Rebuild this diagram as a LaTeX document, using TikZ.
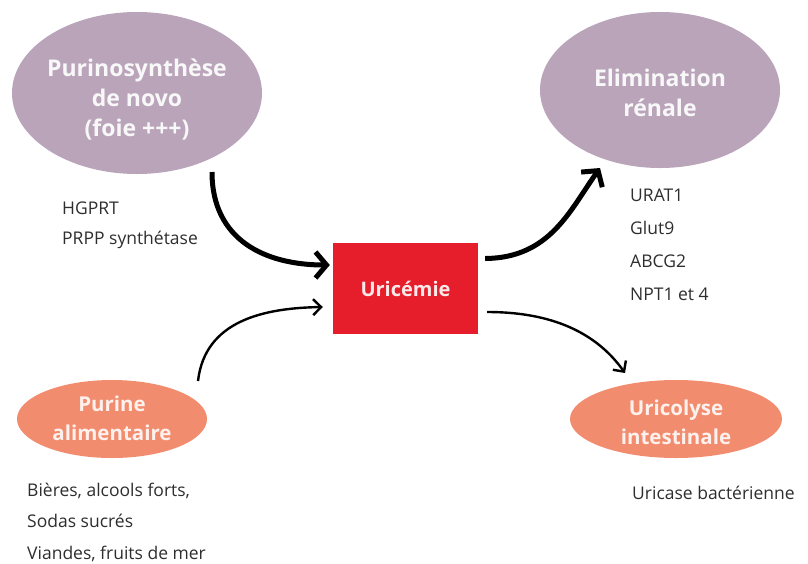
\documentclass[tikz,border=0pt]{standalone}
\usepackage{fontspec}
\setmainfont{Open Sans}
\usetikzlibrary{shapes.geometric,arrows.meta}
\definecolor{mauve}{HTML}{B9A4BA}
\definecolor{salmon}{HTML}{F28C6E}
\definecolor{uricred}{HTML}{E61E2B}
\definecolor{labelgray}{HTML}{2E2E2E}
\tikzset{
  mauveell/.style={ellipse, fill=mauve, draw=none, inner sep=0pt},
  salmonell/.style={ellipse, fill=salmon, draw=none, inner sep=0pt},
  mauvetxt/.style={align=center, inner sep=0pt, text=white!92!mauve,
    font=\fontsize{23}{30}\selectfont\bfseries},
  salmontxt/.style={align=center, inner sep=0pt, text=white!88!salmon,
    font=\fontsize{20.5}{29}\selectfont\bfseries},
  lbl/.style={anchor=west, inner sep=0pt, text=labelgray, align=left},
  thickarrow/.style={line width=5pt, -{Straight Barb[length=11pt,width=26pt,line width=5pt]}},
  thinarrow/.style={line width=2.4pt, -{Straight Barb[length=8pt,width=16pt,line width=2.4pt]}}
}
\begin{document}
\begin{tikzpicture}[x=1pt,y=-1pt]
\useasboundingbox (0,0) rectangle (808,563);
\node[mauveell, minimum width=250pt, minimum height=162pt] (pur) at (137,93) {};
\node[mauvetxt] (purtxt) at (137,100) {Purinosynthèse\\de novo\\(foie +++)};
\node[mauveell, minimum width=240pt, minimum height=156pt] (elim) at (660,90) {};
\node[mauvetxt] (elimtxt) at (660,93) {Elimination\\rénale};
\node[salmonell, minimum width=190pt, minimum height=78pt] (alim) at (112,419) {};
\node[salmontxt] (alimtxt) at (112,418) {Purine\\alimentaire};
\node[salmonell, minimum width=212pt, minimum height=78pt] (colyse) at (676,419) {};
\node[salmontxt] (colysetxt) at (676,422) {Uricolyse\\intestinale};
\node[fill=uricred, minimum width=145pt, minimum height=91pt, inner sep=0pt,
  text=white!90!uricred, font=\fontsize{20}{24}\selectfont\bfseries] (uric) at (405.5,288.5) {Uricémie};

\node[lbl, font=\fontsize{17.5}{30}\selectfont] (enz) at (62,225) {HGPRT\\PRPP synthétase};
\node[lbl, font=\fontsize{17.5}{33}\selectfont] (trans) at (630,245) {URAT1\\Glut9\\ABCG2\\NPT1 et 4};
\node[lbl, font=\fontsize{17.5}{31.5}\selectfont] (food) at (27,522) {Bières, alcools forts,\\Sodas sucrés\\Viandes, fruits de mer};
\node[lbl, font=\fontsize{17.5}{30}\selectfont] (uricase) at (632,493) {Uricase bactérienne};

\coordinate (a1s) at (212,172);
\coordinate (a2e) at (600,168);
\coordinate (a3s) at (198,381);
\coordinate (a4e) at (625,373);

\draw[thickarrow] (a1s) .. controls (212,240) and (265,265) .. ([xshift=-3pt,yshift=23.5pt]uric.west);
\draw[thickarrow] ([xshift=7pt,yshift=30pt]uric.east) .. controls (550,258) and (570,210) .. (a2e);
\draw[thinarrow] (a3s) .. controls (205,320) and (265,308) .. ([xshift=-10pt,yshift=-18.5pt]uric.west);
\draw[thinarrow] ([xshift=9pt,yshift=-23.5pt]uric.east) .. controls (560,312) and (600,338) .. (a4e);
\end{tikzpicture}
\end{document}
